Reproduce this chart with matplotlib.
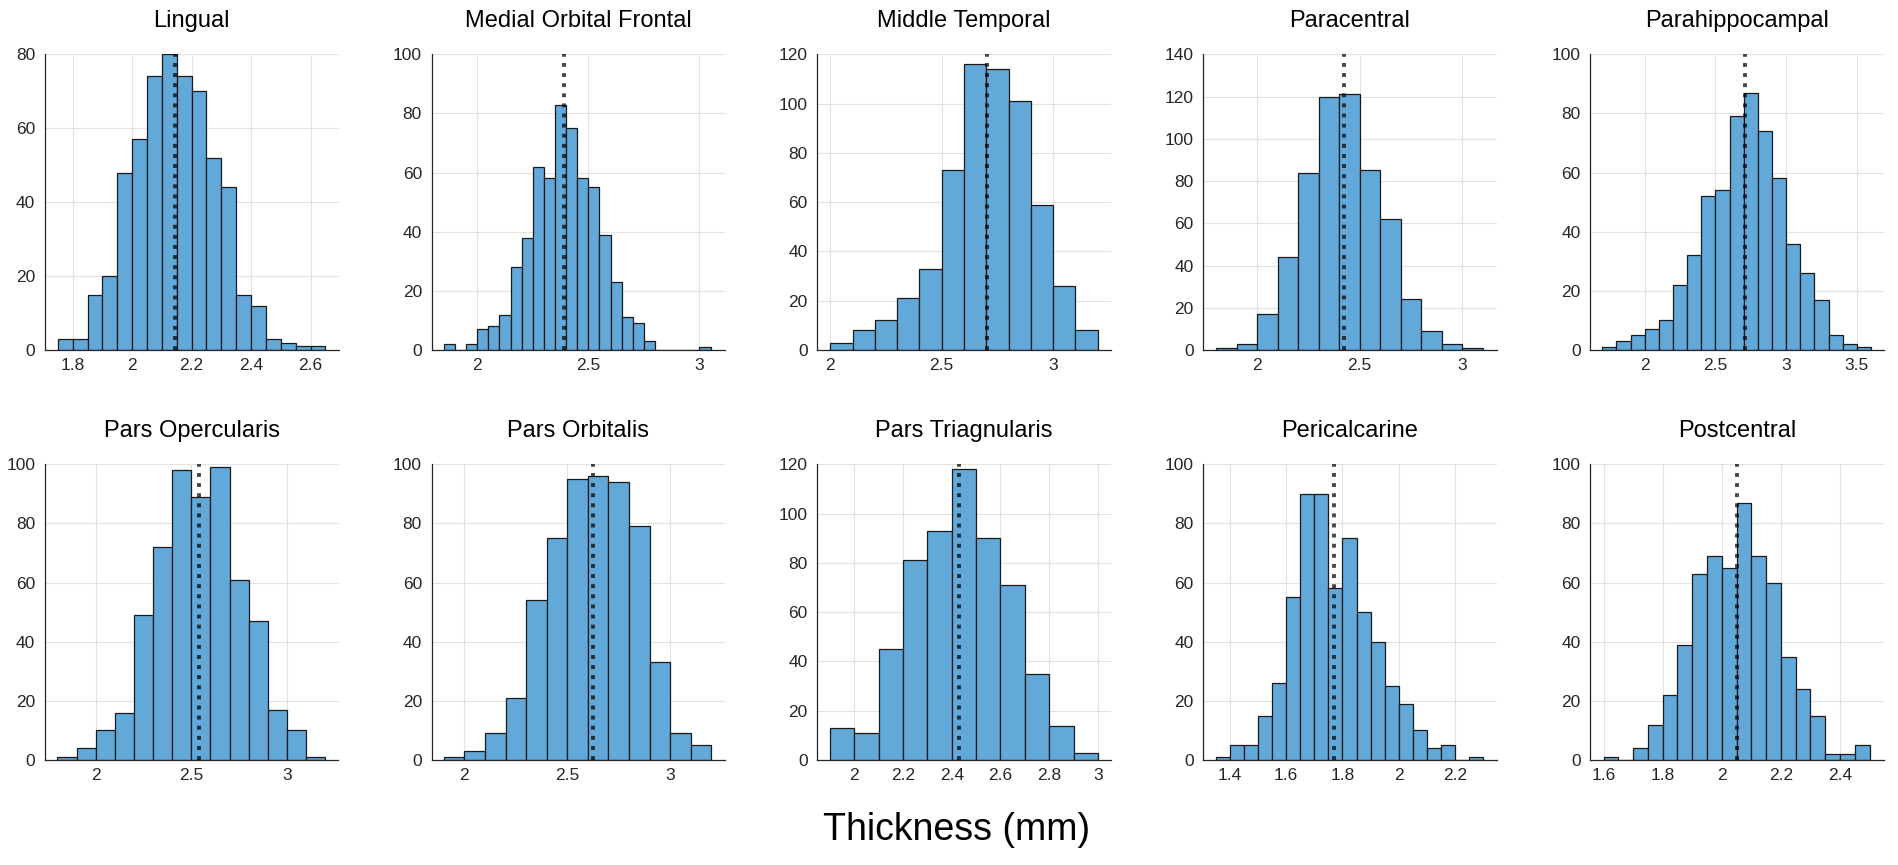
import numpy as np
import matplotlib
matplotlib.use("Agg")
import matplotlib.pyplot as plt
from matplotlib.ticker import FuncFormatter

plt.rcParams["font.family"] = ["Liberation Sans", "DejaVu Sans"]

# Cortical thickness histograms, one per region (counts)
regions = [
    "Lingual", "Medial Orbital Frontal", "Middle Temporal", "Paracentral",
    "Parahippocampal", "Pars Opercularis", "Pars Orbitalis",
    "Pars Triagnularis", "Pericalcarine", "Postcentral",
]

# left edge of the first bin and the bin width (mm)
bin_start = [1.75, 1.85, 2.0, 1.8, 1.7, 1.8, 1.9, 1.9, 1.35, 1.6]
bin_width = [0.05, 0.05, 0.1, 0.1, 0.1, 0.1, 0.1, 0.1, 0.05, 0.05]

counts_lingual = [3, 3, 15, 20, 48, 57, 74, 80, 74, 70, 52, 44, 15, 12, 3, 2, 1, 1]
counts_medial_orbital_frontal = [2, 0, 2, 7, 8, 12, 28, 38, 62, 58, 83, 75, 58, 55,
                                 39, 23, 11, 9, 3, 0, 0, 0, 0, 1]
counts_middle_temporal = [3, 8, 12, 21, 33, 73, 116, 114, 101, 59, 26, 8]
counts_paracentral = [1, 3, 17, 44, 84, 120, 121, 85, 62, 24, 9, 3, 1]
counts_parahippocampal = [1, 3, 5, 7, 10, 22, 32, 52, 54, 79, 87, 74, 58, 36, 26, 17, 5, 2, 1]
counts_pars_opercularis = [1, 4, 10, 16, 49, 72, 98, 89, 99, 61, 47, 17, 10, 1]
counts_pars_orbitalis = [1, 3, 9, 21, 54, 75, 95, 96, 94, 79, 33, 9, 5]
counts_pars_triangularis = [13, 11, 45, 81, 93, 118, 90, 71, 35, 14, 3]
counts_pericalcarine = [1, 5, 5, 15, 26, 55, 90, 90, 58, 75, 50, 40, 25, 19, 10, 4, 5, 0, 1]
counts_postcentral = [1, 0, 4, 12, 22, 39, 63, 69, 65, 87, 69, 60, 35, 24, 15, 2, 2, 5]

counts = [
    counts_lingual, counts_medial_orbital_frontal, counts_middle_temporal,
    counts_paracentral, counts_parahippocampal, counts_pars_opercularis,
    counts_pars_orbitalis, counts_pars_triangularis, counts_pericalcarine,
    counts_postcentral,
]

# mean thickness (dotted line)
means = [2.144, 2.39, 2.705, 2.422, 2.708, 2.538, 2.627, 2.43, 1.769, 2.051]

x_ticks = [
    [1.8, 2, 2.2, 2.4, 2.6],
    [2, 2.5, 3],
    [2, 2.5, 3],
    [2, 2.5, 3],
    [2, 2.5, 3, 3.5],
    [2, 2.5, 3],
    [2, 2.5, 3],
    [2, 2.2, 2.4, 2.6, 2.8, 3],
    [1.4, 1.6, 1.8, 2, 2.2],
    [1.6, 1.8, 2, 2.2, 2.4],
]
x_limits = [
    (1.707, 2.694), (1.795, 3.116), (1.942, 3.259), (1.737, 3.169), (1.615, 3.691),
    (1.735, 3.27), (1.841, 3.267), (1.848, 3.053), (1.305, 2.349), (1.555, 2.548),
]
y_max = [80, 100, 120, 140, 100, 100, 100, 120, 100, 100]

W, H = 1898, 865
fig = plt.figure(figsize=(W / 100, H / 100), dpi=100)

col_left = [45, 431.7, 817.3, 1203.3, 1590.3]
ax_w = 293.5
row_top = [54.3, 464.3]
ax_h = 295.7

bar_color = "#62a8d9"
axis_color = "#262626"


def fmt(v, pos):
    return "%g" % v


for i, name in enumerate(regions):
    r, c = divmod(i, 5)
    ax = fig.add_axes([col_left[c] / W, 1 - (row_top[r] + ax_h) / H, ax_w / W, ax_h / H])

    edges = bin_start[i] + bin_width[i] * np.arange(len(counts[i]) + 1)
    ax.bar(edges[:-1], counts[i], width=bin_width[i], align="edge",
           color=bar_color, edgecolor="#1a1a1a", linewidth=0.9, zorder=2)

    ax.plot([means[i], means[i]], [0, y_max[i]], color="black", alpha=0.72,
            linewidth=2.8, linestyle=(0, (1, 1.6)), dash_capstyle="butt",
            zorder=3)

    ax.set_xlim(*x_limits[i])
    ax.set_ylim(0, y_max[i])
    ax.set_xticks(x_ticks[i])
    ax.set_yticks(np.arange(0, y_max[i] + 1, 20))
    ax.xaxis.set_major_formatter(FuncFormatter(fmt))

    ax.grid(True, color="#e2e2e2", linewidth=0.8, zorder=0)
    ax.set_axisbelow(True)
    for s in ["top", "right"]:
        ax.spines[s].set_visible(False)
    for s in ["left", "bottom"]:
        ax.spines[s].set_color(axis_color)
        ax.spines[s].set_linewidth(0.9)
    ax.tick_params(length=0, labelsize=12.5, colors=axis_color)
    ax.tick_params(axis="x", pad=6)
    ax.tick_params(axis="y", pad=7)

    ax.set_title(name, fontsize=17, pad=20)

fig.text(957 / W, 1 - 840 / H, "Thickness (mm)", fontsize=27,
         ha="center", va="baseline")

fig.savefig("out.png", dpi=100)
